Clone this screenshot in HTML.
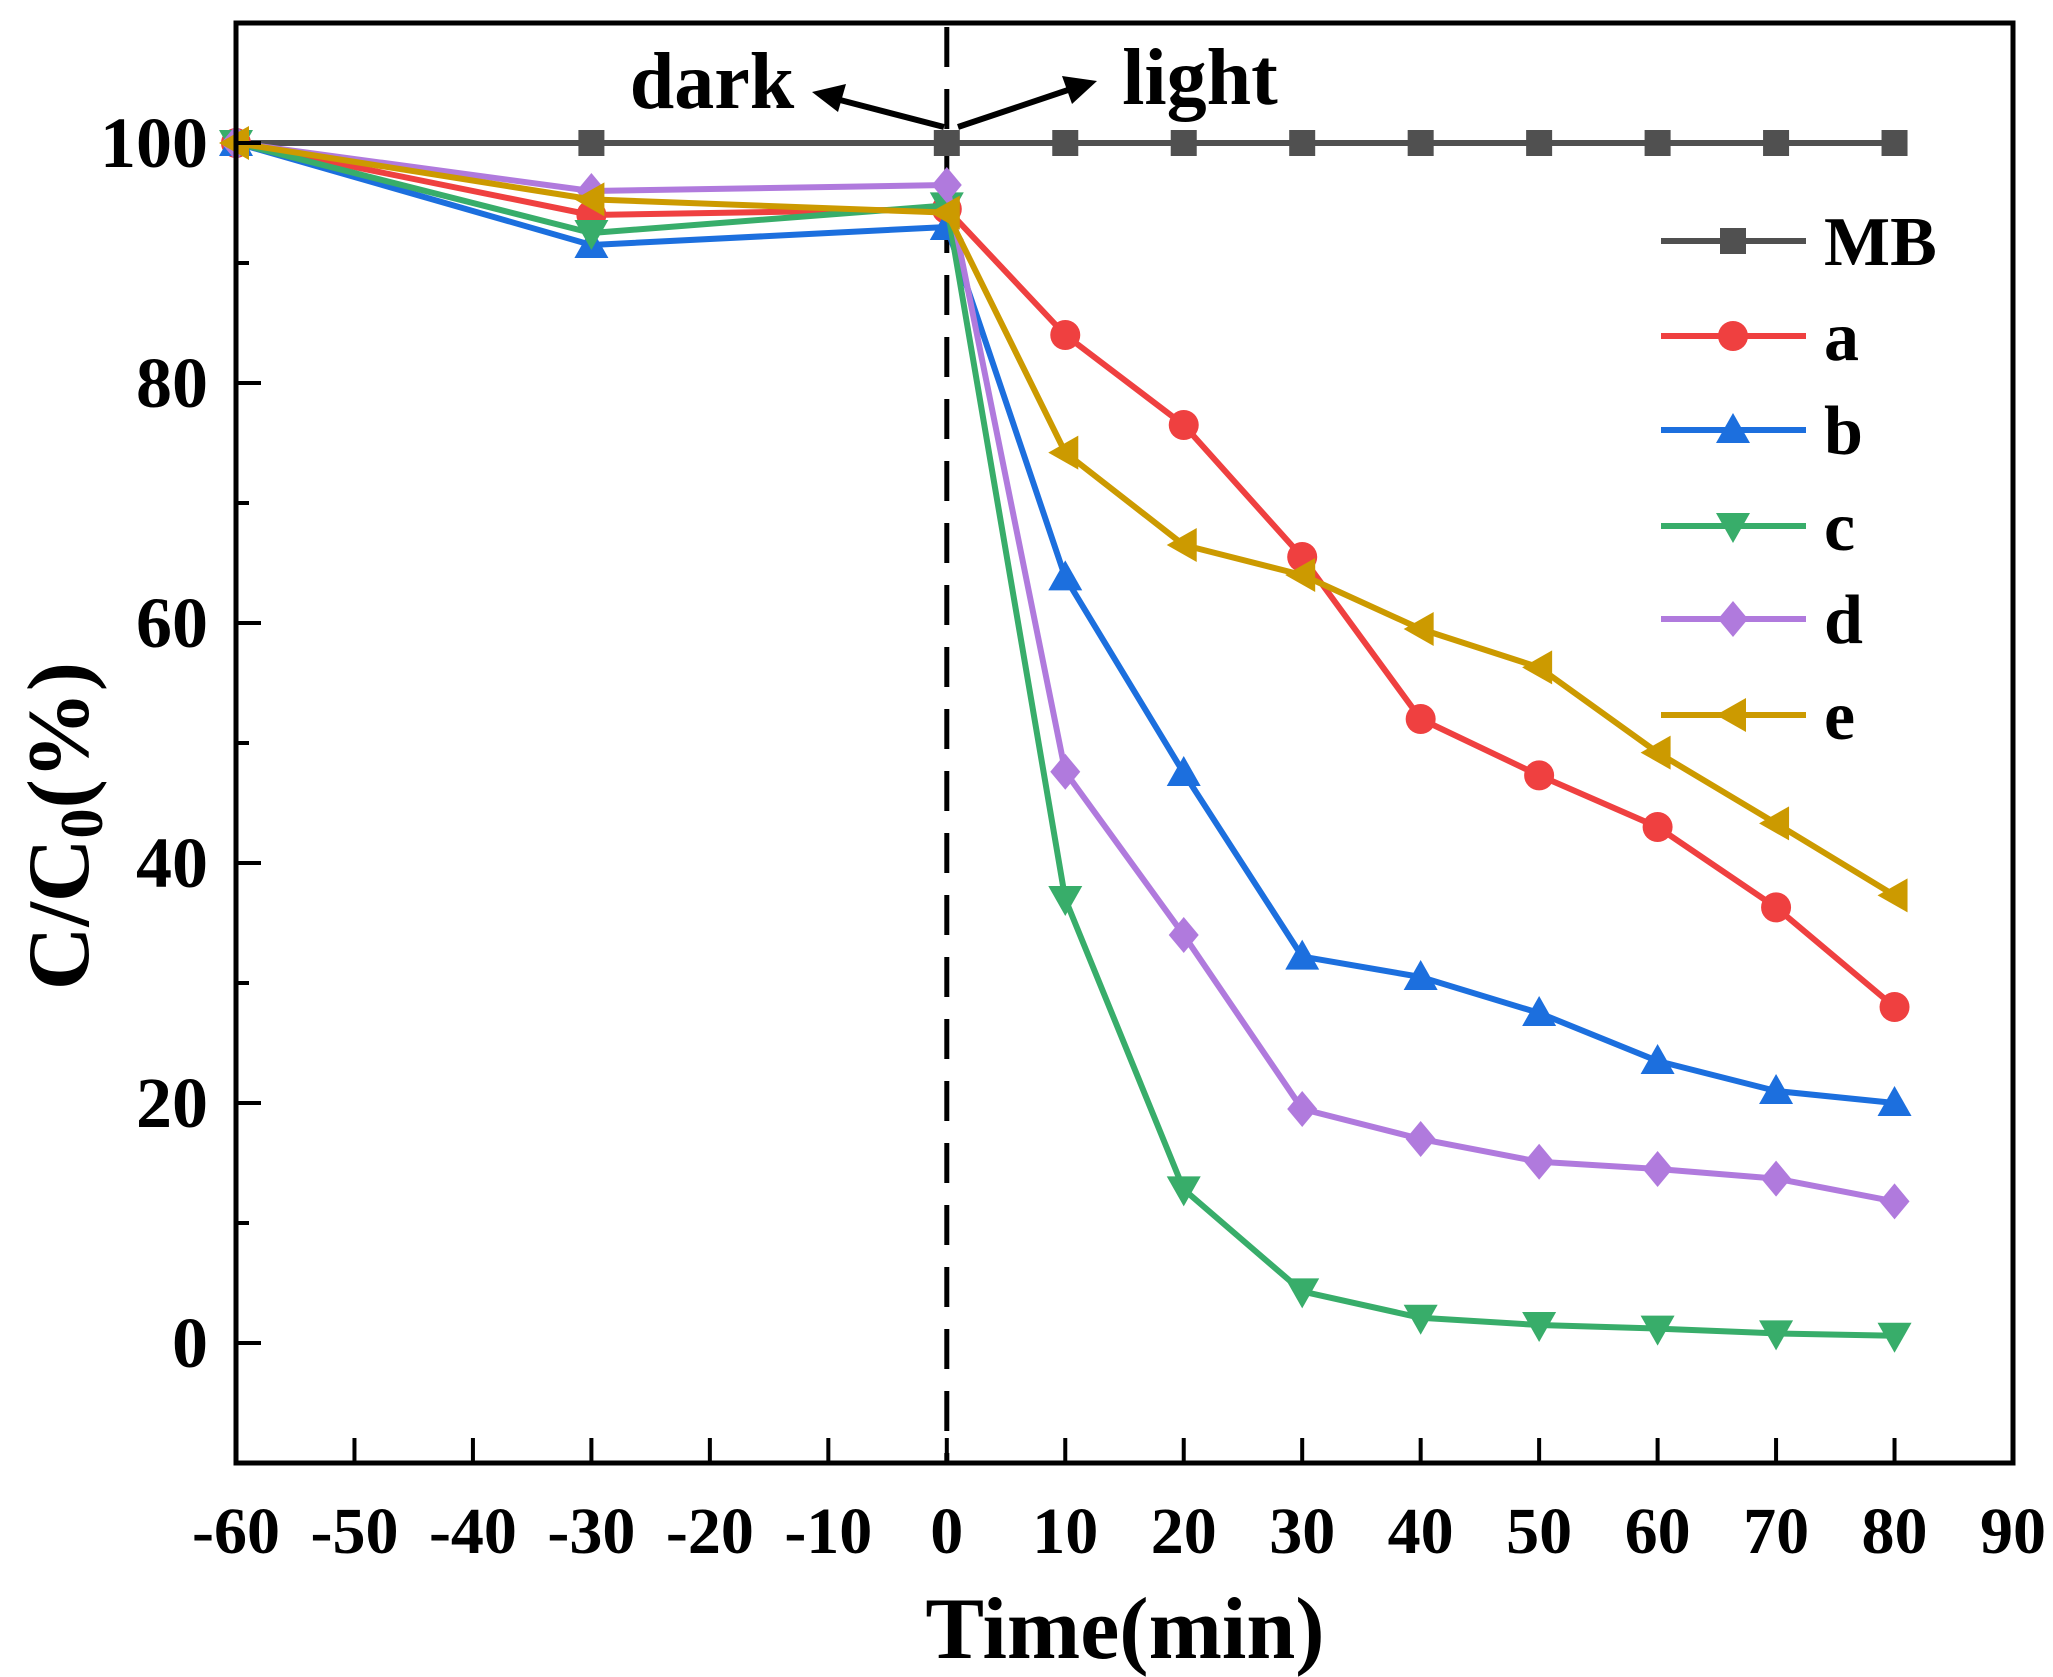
<!DOCTYPE html>
<html><head><meta charset="utf-8"><style>
html,body{margin:0;padding:0;background:#fff}
svg{display:block}
text{font-family:"Liberation Serif",serif;font-weight:bold;fill:#000}
</style></head><body>
<svg id="chart" width="2053" height="1677" viewBox="0 0 2053 1677" xmlns="http://www.w3.org/2000/svg">
<g id="plot"></g>
</svg>
<script>
const times = [-60,-30,0,10,20,30,40,50,60,70,80];
const seriesNames = ["MB","a","b","c","d","e"];
const mbVals = [100,100,100,100,100,100,100,100,100,100,100];
const aVals = [100,94,94.5,84,76.5,65.5,52,47.3,43,36.3,28];
const bVals = [100,91.5,93,63.8,47.5,32.2,30.5,27.5,23.5,21,20];
const cVals = [100,92.5,94.8,37,12.8,4.3,2.1,1.5,1.2,0.8,0.6];
const dVals = [100,96,96.5,47.6,34,19.5,17,15.1,14.5,13.7,11.8];
const eVals = [100,95.3,94.2,74.2,66.5,64,59.5,56.3,49.2,43.3,37.3];
const xTicks = [-60,-50,-40,-30,-20,-10,0,10,20,30,40,50,60,70,80,90];
const yMajor = [0,20,40,60,80,100];
const yMinor = [-10,10,30,50,70,90];

const NS="http://www.w3.org/2000/svg";
const L=236,R=2013,T=23,B=1463;
const xMin=-60,xMax=90,yMin=-10,yMax=110;
const X=v=>L+(v-xMin)/(xMax-xMin)*(R-L);
const Y=v=>B-(v-yMin)/(yMax-yMin)*(B-T);
const g=document.getElementById('plot');
function el(tag,attrs,parent){const e=document.createElementNS(NS,tag);for(const k in attrs)e.setAttribute(k,attrs[k]);(parent||g).appendChild(e);return e;}

const colors={MB:"#505050",a:"#ef4040",b:"#1c6fde",c:"#38ad6a",d:"#b07add",e:"#cc9a00"};
const shapes={MB:"square",a:"circle",b:"up",c:"down",d:"diamond",e:"left"};
const vals={MB:mbVals,a:aVals,b:bVals,c:cVals,d:dVals,e:eVals};

function marker(shape,cx,cy,col,parent){
  const s=15;let m;
  if(shape==="square")m=el('rect',{x:cx-13,y:cy-13,width:26,height:26,fill:col},parent);
  else if(shape==="circle")m=el('circle',{cx:cx,cy:cy,r:15,fill:col},parent);
  else{let p;
    if(shape==="up")p=[[cx,cy-s-2],[cx+s+2,cy+s-2],[cx-s-2,cy+s-2]];
    if(shape==="down")p=[[cx,cy+s+2],[cx+s+2,cy-s+2],[cx-s-2,cy-s+2]];
    if(shape==="diamond")p=[[cx,cy-s-3],[cx+s,cy],[cx,cy+s+3],[cx-s,cy]];
    if(shape==="left")p=[[cx-s-2,cy],[cx+s-2,cy-s-2],[cx+s-2,cy+s+2]];
    m=el('polygon',{points:p.map(q=>q.join(',')).join(' '),fill:col},parent);}
  return m;
}

const dv=el('line',{x1:X(0),y1:T+4,x2:X(0),y2:B,stroke:"#000","stroke-width":5,"stroke-dasharray":"40,22"});



seriesNames.forEach(n=>{
  const sg=el('g',{});
  
  
  const pts=times.map((t,i)=>X(t)+','+Y(vals[n][i])).join(' ');
  el('polyline',{points:pts,fill:"none",stroke:colors[n],"stroke-width":6,"stroke-linejoin":"round"},sg);
  times.forEach((t,i)=>{
    const m=marker(shapes[n],X(t),Y(vals[n][i]),colors[n],sg);
    
    
  });
});

const fr=el('rect',{x:L,y:T,width:R-L,height:B-T,fill:"none",stroke:"#000","stroke-width":5});



xTicks.forEach(t=>{
  el('line',{x1:X(t),y1:B,x2:X(t),y2:B-25,stroke:"#000","stroke-width":4});
  const tx=el('text',{x:X(t),y:1553,"text-anchor":"middle","font-size":66});
  tx.textContent=t;
  
  
});
yMajor.forEach(v=>{
  el('line',{x1:L,y1:Y(v),x2:L+25,y2:Y(v),stroke:"#000","stroke-width":4});
  const tx=el('text',{x:208,y:Y(v)+24,"text-anchor":"end","font-size":72});
  tx.textContent=v;
  
  
});
yMinor.forEach(v=>{
  el('line',{x1:L,y1:Y(v),x2:L+13,y2:Y(v),stroke:"#000","stroke-width":4});
});

const xt=el('text',{x:1125,y:1658,"text-anchor":"middle","font-size":88});
xt.textContent="Time(min)";


const yt=el('text',{x:0,y:0,"text-anchor":"middle","font-size":88,transform:"translate(88,826) rotate(-90)"});
yt.innerHTML='C/C<tspan font-size="60" dy="14">0</tspan><tspan dy="-14">(%)</tspan>';



const dk=el('text',{x:712,y:108,"text-anchor":"middle","font-size":80});
dk.textContent="dark";


const lt=el('text',{x:1200,y:104,"text-anchor":"middle","font-size":80});
lt.textContent="light";


const a1=el('g',{});


el('line',{x1:944,y1:127,x2:840,y2:100,stroke:"#000","stroke-width":6},a1);
el('polygon',{points:"812,92 846,84 838,112",fill:"#000"},a1);
const a2=el('g',{});


el('line',{x1:958,y1:127,x2:1068,y2:90,stroke:"#000","stroke-width":6},a2);
el('polygon',{points:"1097,81 1072,104 1062,76",fill:"#000"},a2);

const lg=el('g',{});


const rows=[241,336,430,526,619,715];
seriesNames.forEach((n,i)=>{
  const eg=el('g',{},lg);
  
  
  el('line',{x1:1661,y1:rows[i],x2:1806,y2:rows[i],stroke:colors[n],"stroke-width":6},eg);
  marker(shapes[n],1733,rows[i],colors[n],eg);
  const t=el('text',{x:1824,y:rows[i]+24,"font-size":70},eg);
  t.textContent=n;
});
</script>
</body></html>
